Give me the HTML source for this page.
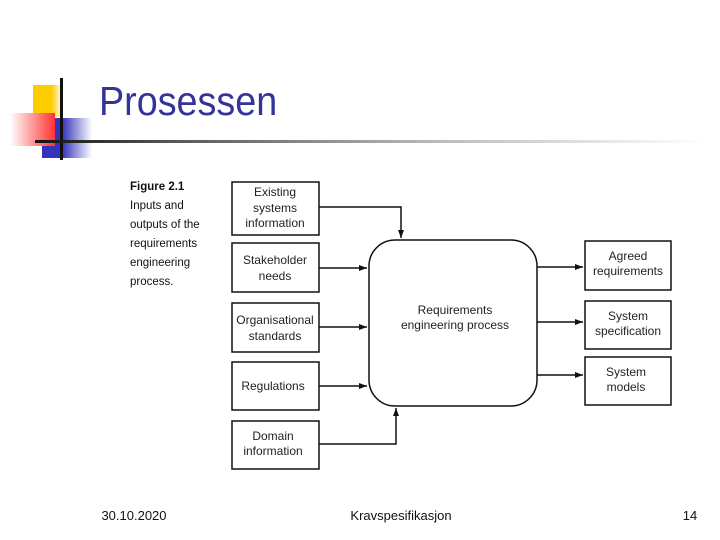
<!DOCTYPE html>
<html><head><meta charset="utf-8"><style>
body{margin:0;width:720px;height:540px;background:#fff;overflow:hidden;position:relative;font-family:"Liberation Sans",sans-serif}
.a{position:absolute}
</style></head><body>
<div class="a" style="left:33px;top:85px;width:30px;height:32px;background:linear-gradient(90deg,#ffcc00 60%,#fff)"></div>
<div class="a" style="left:42px;top:118px;width:50px;height:40px;background:linear-gradient(90deg,#3333bb 40%,#fff)"></div>
<div class="a" style="left:10px;top:113px;width:45px;height:33px;background:linear-gradient(90deg,#fff,#ff3333)"></div>
<div class="a" style="left:60px;top:78px;width:3px;height:82px;background:#111"></div>
<div class="a" style="left:35px;top:140px;width:670px;height:3px;background:linear-gradient(90deg,#111 0%,#555 20%,#bbb 60%,#fff 100%)"></div>
<div class="a" style="left:99px;top:78px;font-size:41px;color:#333399;transform:scaleX(0.92);transform-origin:left">Prosessen</div>
<div class="a" style="left:130px;top:178px;font-size:11.5px;line-height:19px;color:#111">
<b>Figure 2.1</b><br>Inputs and<br>outputs of the<br>requirements<br>engineering<br>process.</div>
<svg class="a" style="left:0;top:0" width="720" height="540" font-family="Liberation Sans, sans-serif" font-size="12" text-anchor="middle" fill="#222">
<defs><marker id="m" markerWidth="8" markerHeight="6" refX="8" refY="3" orient="auto" markerUnits="userSpaceOnUse"><path d="M0,0L8,3L0,6z" fill="#111"/></marker></defs>
<g fill="none" stroke="#111" stroke-width="1.5">
<rect x="232" y="182" width="87" height="53"/>
<rect x="232" y="243" width="87" height="49"/>
<rect x="232" y="303" width="87" height="49"/>
<rect x="232" y="362" width="87" height="48"/>
<rect x="232" y="421" width="87" height="48"/>
<rect x="369" y="240" width="168" height="166" rx="26"/>
<rect x="585" y="241" width="86" height="49"/>
<rect x="585" y="301" width="86" height="48"/>
<rect x="585" y="357" width="86" height="48"/>
<path d="M319,207H401V238" marker-end="url(#m)"/>
<path d="M319,268H367" marker-end="url(#m)"/>
<path d="M319,327H367" marker-end="url(#m)"/>
<path d="M319,386H367" marker-end="url(#m)"/>
<path d="M319,444H396V408" marker-end="url(#m)"/>
<path d="M537,267H583" marker-end="url(#m)"/>
<path d="M537,322H583" marker-end="url(#m)"/>
<path d="M537,375H583" marker-end="url(#m)"/>
</g>
<text x="275" y="196">Existing</text><text x="275" y="212">systems</text><text x="275" y="227">information</text>
<text x="275" y="264">Stakeholder</text><text x="275" y="280">needs</text>
<text x="275" y="324">Organisational</text><text x="275" y="340">standards</text>
<text x="273" y="390">Regulations</text>
<text x="273" y="440">Domain</text><text x="273" y="455">information</text>
<text x="455" y="314">Requirements</text><text x="455" y="329">engineering process</text>
<text x="628" y="260">Agreed</text><text x="628" y="275">requirements</text>
<text x="628" y="320">System</text><text x="628" y="335">specification</text>
<text x="626" y="376">System</text><text x="626" y="391">models</text>
<g font-size="13" fill="#111">
<text x="134" y="520">30.10.2020</text>
<text x="401" y="520">Kravspesifikasjon</text>
<text x="690" y="520">14</text>
</g>
</svg>
</body></html>
